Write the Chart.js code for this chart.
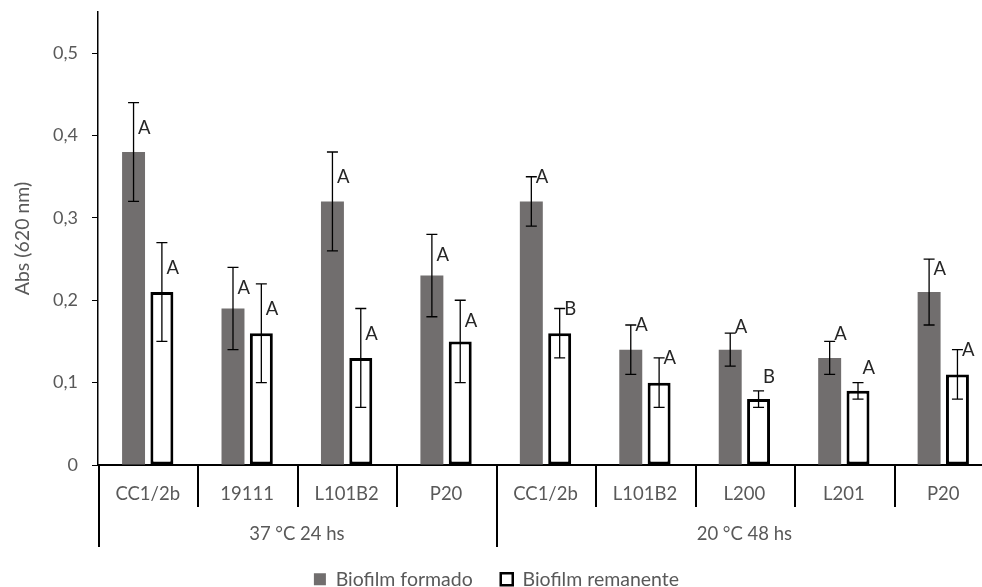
<!DOCTYPE html>
<html>
<head>
<meta charset="utf-8">
<script src="https://cdn.jsdelivr.net/npm/chart.js@4/dist/chart.umd.min.js"></script>
<style>
  html, body { margin: 0; padding: 0; overflow: hidden; background: #fff; }
  canvas { display: block; }
</style>
</head>
<body>
<canvas id="chart" width="1000" height="599"></canvas>
<script>
// Strains tested, grouped by incubation condition
const strains = ['CC1/2b', '19111', 'L101B2', 'P20', 'CC1/2b', 'L101B2', 'L200', 'L201', 'P20'];
const conditions = ['37 °C 24 hs', '20 °C 48 hs'];
const strainsPerCondition = [4, 5];

// Absorbance at 620 nm (mean and standard deviation)
const formado = [0.38, 0.19, 0.32, 0.23, 0.32, 0.14, 0.14, 0.13, 0.21];
const formadoSD = [0.06, 0.05, 0.06, 0.05, 0.03, 0.03, 0.02, 0.02, 0.04];
const remanente = [0.21, 0.16, 0.13, 0.15, 0.16, 0.10, 0.08, 0.09, 0.11];
const remanenteSD = [0.06, 0.06, 0.06, 0.05, 0.03, 0.03, 0.01, 0.01, 0.03];

// Significance letters
const formadoLetters = ['A', 'A', 'A', 'A', 'A', 'A', 'A', 'A', 'A'];
const remanenteLetters = ['A', 'A', 'A', 'A', 'B', 'A', 'B', 'A', 'A'];

// Value axis ticks
const yTicks = [0, 0.1, 0.2, 0.3, 0.4, 0.5];

const FONT = 'Lato, "Liberation Sans", sans-serif';
const GREY_TEXT = '#595959';

const errorBars = {
  id: 'errorBars',
  afterDatasetsDraw(chart) {
    const { ctx } = chart;
    const y = chart.scales.y;
    const sds = [formadoSD, remanenteSD];
    ctx.save();
    ctx.strokeStyle = '#000';
    ctx.lineWidth = 1.3;
    chart.data.datasets.forEach((ds, di) => {
      chart.getDatasetMeta(di).data.forEach((bar, i) => {
        const v = ds.data[i], sd = sds[di][i];
        const top = y.getPixelForValue(v + sd);
        const bot = y.getPixelForValue(v - sd);
        const x = bar.x;
        ctx.beginPath();
        ctx.moveTo(x, top); ctx.lineTo(x, bot);
        ctx.moveTo(x - 5.5, top); ctx.lineTo(x + 5.5, top);
        ctx.moveTo(x - 5.5, bot); ctx.lineTo(x + 5.5, bot);
        ctx.stroke();
      });
    });
    ctx.restore();
  }
};

const letterLabels = {
  id: 'letterLabels',
  afterDatasetsDraw(chart, args, opts) {
    const { ctx } = chart;
    const y = chart.scales.y;
    const sds = [formadoSD, remanenteSD];
    const letters = [formadoLetters, remanenteLetters];
    ctx.save();
    ctx.font = '18.5px ' + FONT;
    ctx.fillStyle = '#262626';
    ctx.textAlign = 'left';
    ctx.textBaseline = 'alphabetic';
    chart.data.datasets.forEach((ds, di) => {
      chart.getDatasetMeta(di).data.forEach((bar, i) => {
        const v = ds.data[i], sd = sds[di][i];
        // first condition: beside the upper whisker; second: level with the cap
        const anchor = i < strainsPerCondition[0] ? v + sd / 2 : v + sd;
        const cy = y.getPixelForValue(anchor) + opts.shift[di][i];
        ctx.fillText(letters[di][i], bar.x + 4.5, cy + 6.5);
      });
    });
    ctx.restore();
  }
};

const groupedAxis = {
  id: 'groupedAxis',
  afterDraw(chart) {
    const { ctx, chartArea } = chart;
    const x = chart.scales.x;
    const base = chartArea.bottom;
    const step = x.width / strains.length;
    ctx.save();
    ctx.strokeStyle = '#000';
    ctx.lineWidth = 2;
    ctx.font = '18.5px ' + FONT;
    ctx.fillStyle = GREY_TEXT;
    ctx.textAlign = 'center';
    ctx.textBaseline = 'middle';
    // strain labels
    strains.forEach((s, i) => {
      ctx.fillText(s, x.getPixelForValue(i), base + 29);
    });
    // dividers
    const groupEdges = [0];
    strainsPerCondition.reduce((acc, n) => { groupEdges.push(acc + n); return acc + n; }, 0);
    for (let i = 0; i <= strains.length; i++) {
      const px = Math.round(x.left + i * step) + 1;
      const long = groupEdges.includes(i);
      ctx.beginPath();
      ctx.moveTo(px, base);
      ctx.lineTo(px, base + (long ? 82 : 42));
      ctx.stroke();
    }
    // condition labels
    conditions.forEach((c, g) => {
      const cx = x.left + (groupEdges[g] + groupEdges[g + 1]) / 2 * step;
      ctx.fillText(c, cx, base + 69);
    });
    ctx.restore();
  }
};

const yTitle = {
  id: 'yTitle',
  afterDraw(chart) {
    const { ctx, chartArea } = chart;
    ctx.save();
    ctx.translate(23, (chartArea.top + chartArea.bottom) / 2);
    ctx.rotate(-Math.PI / 2);
    ctx.font = '19.5px ' + FONT;
    ctx.fillStyle = GREY_TEXT;
    ctx.textAlign = 'center';
    ctx.textBaseline = 'middle';
    ctx.fillText('Abs (620 nm)', 0, 0);
    ctx.restore();
  }
};

function build() {
  new Chart(document.getElementById('chart'), {
    type: 'bar',
    data: {
      labels: strains,
      datasets: [
        {
          label: 'Biofilm formado',
          data: formado,
          backgroundColor: '#716e6e',
          borderWidth: 0,
          categoryPercentage: 0.57,
          barPercentage: 0.81
        },
        {
          label: 'Biofilm remanente',
          data: remanente,
          backgroundColor: '#ffffff',
          borderColor: '#000000',
          borderWidth: 3,
          borderSkipped: false,
          categoryPercentage: 0.57,
          barPercentage: 0.81
        }
      ]
    },
    options: {
      responsive: false,
      animation: false,
      devicePixelRatio: 1,
      layout: { padding: { top: 12, right: 7, left: 0, bottom: 0 } },
      scales: {
        x: {
          grid: { display: false },
          ticks: { display: false },
          border: { display: true, color: '#000', width: 2 },
          afterFit: s => { s.height = 76.5; s.paddingLeft = 0; s.paddingRight = 0; }
        },
        y: {
          min: 0,
          max: 0.55,
          afterBuildTicks: s => { s.ticks = yTicks.map(v => ({ value: v })); },
          afterFit: s => { s.width = 98; s.paddingTop = 0; s.paddingBottom = 0; },
          grid: { drawOnChartArea: false, drawTicks: true, tickLength: 6, color: '#000', lineWidth: 1 },
          border: { display: true, color: '#000', width: 1.5 },
          ticks: {
            padding: 14,
            color: GREY_TEXT,
            font: { family: FONT, size: 18 },
            callback: v => v === 0 ? '0' : v.toFixed(1).replace('.', ',')
          }
        }
      },
      plugins: {
        tooltip: { enabled: false },
        legend: {
          position: 'bottom',
          labels: {
            font: { family: FONT, size: 19.5 },
            color: GREY_TEXT,
            boxWidth: 12,
            boxHeight: 12,
            padding: 28,
            generateLabels(chart) {
              const items = Chart.defaults.plugins.legend.labels.generateLabels(chart);
              items.forEach(it => { if (it.lineWidth > 0) it.lineWidth = 2.5; });
              return items;
            }
          }
        },
        letterLabels: {
          shift: [
            [0, 0, 0, 0, 0, 0, -7, -8, 9],
            [0, 0, 0, 0, 0, 0, -14, -15, 0]
          ]
        }
      }
    },
    plugins: [errorBars, letterLabels, groupedAxis, yTitle]
  });
}

if (document.fonts && document.fonts.load) {
  document.fonts.load('18px Lato').then(build, build);
} else {
  build();
}
</script>
</body>
</html>
